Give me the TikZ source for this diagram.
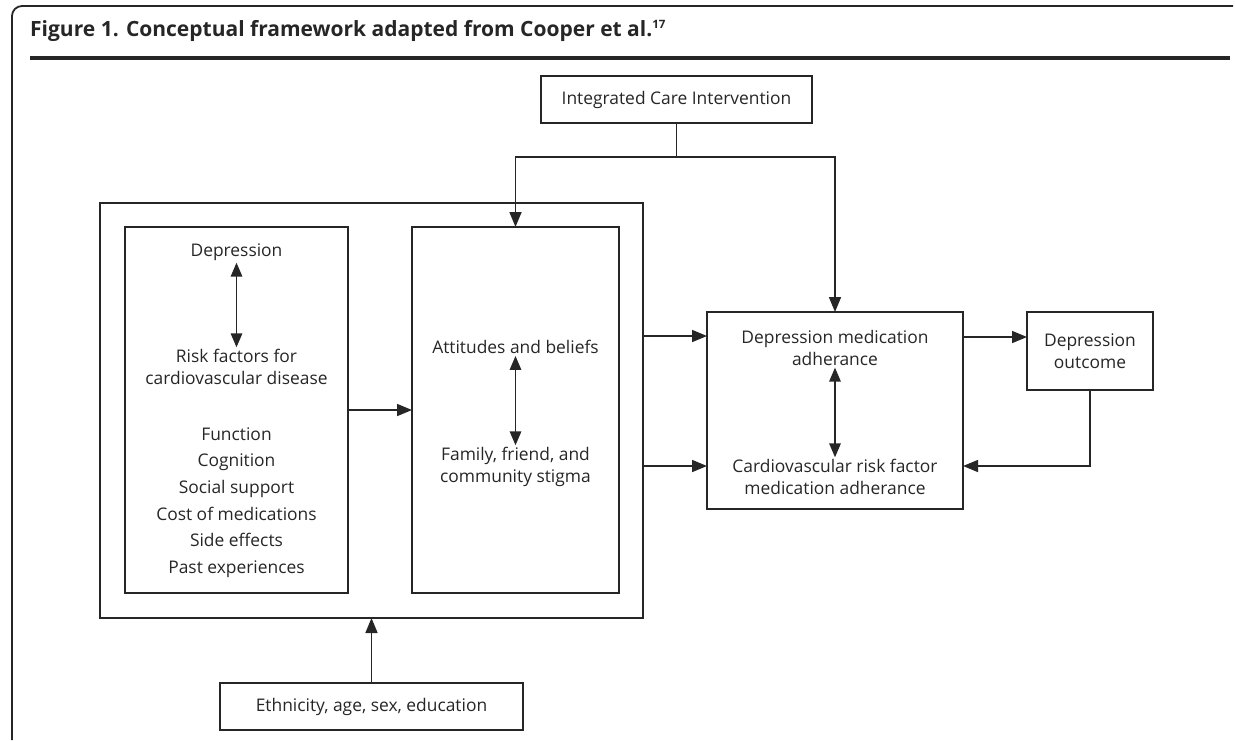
\documentclass[tikz,border=0pt]{standalone}
\usepackage{fontspec}
\setmainfont{Open Sans}
\usetikzlibrary{arrows.meta}
\definecolor{ink}{HTML}{262626}
\definecolor{txt}{HTML}{262626}
\tikzset{
  boxed/.style={draw=ink, line width=1.7pt, inner sep=0pt, outer sep=0pt, text=txt,
    font=\fontsize{17.4}{21.5}\selectfont, align=center},
  label/.style={inner sep=2pt, text=txt, font=\fontsize{17.4}{21.5}\selectfont, align=center},
  listlabel/.style={inner sep=2pt, text=txt, font=\fontsize{17.4}{26.6}\selectfont, align=center},
  conn/.style={draw=ink, line width=1.6pt},
  arr/.style={conn, -{Triangle[length=15pt,width=12pt]}},
  dbl/.style={conn, {Triangle[length=14pt,width=11.5pt]}-{Triangle[length=14pt,width=11.5pt]}},
}
\begin{document}
\begin{tikzpicture}[x=1pt,y=1pt]
\useasboundingbox (0,0) rectangle (1235,-740);
% frame and title
\draw[ink, line width=1.8pt, rounded corners=10pt] (12,-740) -- (12,-6) -- (1233,-6);
\node[anchor=base west, inner sep=0pt, text=ink, font=\fontsize{21}{24}\selectfont\bfseries] (title) at (30,-36)
  {Figure 1. Conceptual framework adapted from Cooper et al.\textsuperscript{\fontsize{11.5}{12}\selectfont 17}};
\draw[ink, line width=4.5pt] (30,-58) -- (1230,-58);

% boxes
\node[boxed, minimum width=271pt, minimum height=47pt] (icare) at (676.5,-99.5) {Integrated Care Intervention};
\node[boxed, minimum width=543pt, minimum height=415pt] (group) at (371.5,-410.5) {};
\node[boxed, minimum width=223pt, minimum height=366pt] (left) at (236.5,-410) {};
\node[boxed, minimum width=207pt, minimum height=366pt] (mid) at (515.5,-410) {};
\node[boxed, minimum width=256pt, minimum height=197pt] (right) at (835,-410.5) {};
\node[boxed, minimum width=126pt, minimum height=78pt] (outcome) at (1090,-351) {Depression\\outcome};
\node[boxed, minimum width=303pt, minimum height=47pt] (ethn) at (371.5,-706.5) {Ethnicity, age, sex, education};

% texts in left box
\node[label] (dep) at (236.5,-252) {Depression};
\node[label] (risk) at (236.5,-367) {Risk factors for\\cardiovascular disease};
\node[listlabel] (list) at (236.5,-502.5) {Function\\Cognition\\Social support\\Cost of medications\\Side effects\\Past experiences};
% texts in middle box
\node[label] (att) at (515.5,-347) {Attitudes and beliefs};
\node[label] (fam) at (515.5,-467) {Family, friend, and\\community stigma};
% texts in right box
\node[label] (dma) at (835,-348) {Depression medication\\adherance};
\node[label] (cma) at (835,-477) {Cardiovascular risk factor\\medication adherance};

% internal double arrows
\draw[dbl] (dep.south) -- (risk.north);
\draw[dbl] (att.south) -- (fam.north);
\draw[dbl] (dma.south) -- (cma.north);

% connectors
\coordinate (j) at (676.5,-157);
\draw[conn] (icare.south) -- (j);
\draw[arr] (j) -| (mid.north);
\draw[arr] (j) -| (right.north);
\draw[arr] (left.east) -- (mid.west);
\coordinate (a1) at (643,-336);
\coordinate (a2) at (643,-466);
\draw[arr] (group.east |- a1) -- (right.west |- a1);
\draw[arr] (group.east |- a2) -- (right.west |- a2);
\coordinate (a3) at (963,-337);
\draw[arr] (right.east |- a3) -- (outcome.west |- a3);
\coordinate (a4) at (1090,-466);
\draw[arr] (outcome.south) -- (a4) -- (right.east |- a4);
\draw[arr] (ethn.north) -- (group.south);
\end{tikzpicture}
\end{document}
